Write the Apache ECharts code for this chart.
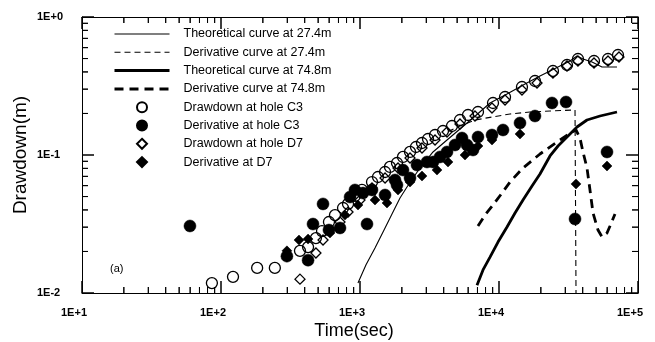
<!DOCTYPE html>
<html>
<head>
<meta charset="utf-8">
<script src="https://cdn.jsdelivr.net/npm/echarts@6/dist/echarts.min.js"></script>
<style>
  html, body { margin: 0; padding: 0; background: #fff; }
  #chart { width: 655px; height: 342px; }
</style>
</head>
<body>
<div id="chart"></div>
<script>
// Axis decades and their labels
const xTickValues = [10, 100, 1000, 10000, 100000];
const xTickLabels = ['1E+1', '1E+2', '1E+3', '1E+4', '1E+5'];
const yTickValues = [0.01, 0.1, 1];
const yTickLabels = ['1E-2', '1E-1', '1E+0'];

const seriesNames = [
  'Theoretical curve at 27.4m',
  'Derivative curve at 27.4m',
  'Theoretical curve at 74.8m',
  'Derivative curve at 74.8m',
  'Drawdown at hole C3',
  'Derivative at hole C3',
  'Drawdown at hole D7',
  'Derivative at D7'
];

// [time (sec), drawdown (m)]
const theory27 = [
  [967, 0.0118], [1105, 0.0160], [1282, 0.0212], [1489, 0.0286], [1699, 0.0374],
  [1940, 0.0488], [2178, 0.0586], [2406, 0.0681], [2702, 0.0805], [3352, 0.1052],
  [4226, 0.1284], [5240, 0.1544], [6500, 0.1854], [8616, 0.2382], [11420, 0.2767],
  [15390, 0.327], [19720, 0.3737], [27470, 0.4416], [32420, 0.4799], [36400, 0.522],
  [40210, 0.4963], [46680, 0.472], [55080, 0.4344], [70600, 0.4344]
];
const deriv27 = [
  [4300, 0.148], [5240, 0.1623], [6719, 0.1793], [8903, 0.1885], [12000, 0.1982],
  [16710, 0.2049], [23280, 0.2084], [35230, 0.212], [35810, 0.212], [35810, 0.01]
];
const theory75 = [
  [6946, 0.0114], [7673, 0.0147], [8616, 0.0182], [9836, 0.0234], [11420, 0.0301],
  [13040, 0.0380], [14880, 0.0472], [17280, 0.0596], [19720, 0.0728], [23280, 0.0984],
  [26580, 0.1162], [30850, 0.1350], [36400, 0.1596], [42960, 0.1793], [53300, 0.1917],
  [70600, 0.2049]
];
const deriv75 = [
  [7060, 0.0306], [7932, 0.0367], [9055, 0.0434], [10510, 0.0530], [12000, 0.0637],
  [14880, 0.0805], [19720, 0.1017], [26150, 0.1242], [33510, 0.1468], [35810, 0.1518],
  [38240, 0.1328], [40210, 0.1052], [42960, 0.0805], [45140, 0.0558], [47470, 0.0380],
  [51560, 0.0286], [55080, 0.0255], [59840, 0.0272], [62900, 0.0306], [68300, 0.0374]
];
const drawdownC3 = [
  [86, 0.0118], [122, 0.0131], [182, 0.0152], [244, 0.0152], [370, 0.0202],
  [423, 0.0215], [482, 0.0250], [533, 0.0281], [598, 0.0327], [661, 0.0367],
  [755, 0.0413], [820, 0.0442], [920, 0.0505], [1033, 0.0558], [1220, 0.0637],
  [1347, 0.0693], [1514, 0.0753], [1643, 0.0819], [1845, 0.0875], [2039, 0.0968],
  [2290, 0.1052], [2528, 0.1143], [2793, 0.1222], [3085, 0.1306], [3465, 0.1396],
  [3955, 0.1493], [4590, 0.1623], [5240, 0.1793], [5985, 0.1949], [7060, 0.2049],
  [9055, 0.2382], [11050, 0.2632], [14630, 0.311], [18150, 0.3436], [24450, 0.406],
  [30850, 0.449], [37000, 0.4963], [48250, 0.4799], [60850, 0.4963], [71800, 0.5306]
];
const derivC3 = [
  [59.8, 0.0306], [298, 0.0185], [423, 0.0173], [459, 0.0316], [542, 0.0442],
  [598, 0.0286], [718, 0.0296], [848, 0.0496], [920, 0.0558], [1051, 0.0530],
  [1123, 0.0316], [1220, 0.0558], [1514, 0.0513], [1786, 0.0659], [1845, 0.0607],
  [2039, 0.0778], [2290, 0.0681], [2571, 0.0846], [3034, 0.0890], [3352, 0.0890],
  [3763, 0.0968], [4226, 0.1052], [4825, 0.1182], [5418, 0.1328], [5886, 0.1182],
  [6500, 0.1087], [7060, 0.1350], [8903, 0.1396], [10690, 0.1518], [14160, 0.1706],
  [18150, 0.1917], [24060, 0.2382], [30350, 0.2421], [35230, 0.0344], [59840, 0.1052]
];
const drawdownD7 = [
  [370, 0.0126], [482, 0.0195], [542, 0.0242], [718, 0.0327], [820, 0.0386],
  [1000, 0.0472], [1220, 0.0577], [1514, 0.0681], [1877, 0.0805], [2290, 0.0951],
  [2793, 0.1124], [3465, 0.1284], [4226, 0.1468], [5240, 0.1678], [6719, 0.1917],
  [8903, 0.2191], [11050, 0.2503], [14630, 0.2958], [18770, 0.3325], [24450, 0.3928],
  [30850, 0.4416], [37000, 0.4799], [48250, 0.464], [60850, 0.4799], [73000, 0.513]
];
const derivD7 = [
  [298, 0.0202], [364, 0.0242], [423, 0.0246], [608, 0.0272], [780, 0.0367],
  [967, 0.0434], [1282, 0.0472], [1564, 0.0449], [1877, 0.0558], [2290, 0.0637],
  [2793, 0.0704], [3581, 0.0778], [4297, 0.0890], [5693, 0.1000], [7060, 0.1162],
  [8903, 0.1284], [14160, 0.1420], [35810, 0.0617], [59840, 0.0832]
];

const FONT = '"Liberation Sans", Arial, Helvetica, sans-serif';
const INK = '#000';
const X_MIN = xTickValues[0], X_MAX = xTickValues[xTickValues.length - 1];
const Y_MIN = yTickValues[0], Y_MAX = yTickValues[yTickValues.length - 1];
const DIAMOND_ICON = 'path://M5,0L10,5L5,10L0,5Z';
const TICK_MAJOR = 12, TICK_MINOR = 6;

// Decades are major ticks, 2..9 within each decade are minor ticks: [value, isMajor]
function logTicks(decades) {
  const out = [];
  decades.forEach(function (d, i) {
    out.push([d, true]);
    if (i < decades.length - 1) {
      for (let m = 2; m <= 9; m++) out.push([d * m, false]);
    }
  });
  return out;
}

// Inward tick marks on all four sides, as thin rect symbols sitting on the frame
function frameTicks() {
  const items = [];
  logTicks(xTickValues).forEach(function (t) {
    const len = t[1] ? TICK_MAJOR : TICK_MINOR;
    items.push({ value: [t[0], Y_MIN], symbolSize: [1, len], symbolOffset: [0, -len / 2] });
    items.push({ value: [t[0], Y_MAX], symbolSize: [1, len], symbolOffset: [0, len / 2] });
  });
  logTicks(yTickValues).forEach(function (t) {
    const len = t[1] ? TICK_MAJOR : TICK_MINOR;
    items.push({ value: [X_MIN, t[0]], symbolSize: [len, 1], symbolOffset: [len / 2, 0] });
    items.push({ value: [X_MAX, t[0]], symbolSize: [len, 1], symbolOffset: [-len / 2, 0] });
  });
  return items;
}

function tickLabel(values, labels) {
  return function (v) {
    for (let i = 0; i < values.length; i++) {
      if (Math.abs(Math.log10(v) - Math.log10(values[i])) < 1e-6) return labels[i];
    }
    return '';
  };
}

const axisCommon = {
  type: 'log',
  logBase: 10,
  splitNumber: 4,
  axisLine: { show: true, onZero: false, lineStyle: { color: INK, width: 1 } },
  axisTick: { show: false },
  minorTick: { show: false },
  splitLine: { show: false },
  minorSplitLine: { show: false }
};

function lineSeries(name, data, width, dash) {
  return {
    name: name, type: 'line', data: data,
    xAxisIndex: 0, yAxisIndex: 0,
    symbol: 'none', showSymbol: false, smooth: false,
    lineStyle: { color: INK, width: width, type: dash || 'solid' },
    itemStyle: { color: INK },
    z: 2
  };
}

function scatterSeries(name, data, symbol, size, filled) {
  return {
    name: name, type: 'scatter', data: data,
    xAxisIndex: 0, yAxisIndex: 0,
    symbol: symbol, symbolSize: size,
    itemStyle: filled
      ? { color: INK, borderColor: INK, borderWidth: 0.5, opacity: 1 }
      : { color: 'rgba(255,255,255,0)', borderColor: INK, borderWidth: 1.3, opacity: 1 },
    z: 3
  };
}

const legendLineWidths = [1.1, 1.1, 3, 3];
const legendData = seriesNames.map(function (n, i) {
  if (i < 4) {
    // line entries show only the stroke, without a marker in the middle
    return { name: n, itemStyle: { opacity: 0 }, lineStyle: { width: legendLineWidths[i] } };
  }
  if (i >= 6) return { name: n, icon: DIAMOND_ICON };
  return { name: n };
});

const chart = echarts.init(document.getElementById('chart'), null, { renderer: 'canvas' });

chart.setOption({
  animation: false,
  backgroundColor: '#fff',
  grid: { left: 82, right: 17, top: 17, bottom: 49, containLabel: false },
  xAxis: [
    Object.assign({}, axisCommon, {
      position: 'bottom', min: X_MIN, max: X_MAX,
      axisLabel: {
        show: true, margin: 14, fontFamily: FONT, fontSize: 11, fontWeight: 'bold', color: INK,
        padding: [0, 16, 0, 0],
        formatter: tickLabel(xTickValues, xTickLabels)
      }
    }),
    Object.assign({}, axisCommon, {
      position: 'top', min: X_MIN, max: X_MAX, gridIndex: 0,
      axisLabel: { show: false }
    })
  ],
  yAxis: [
    Object.assign({}, axisCommon, {
      position: 'left', min: Y_MIN, max: Y_MAX,
      axisLabel: {
        show: true, margin: 45, align: 'left', fontFamily: FONT, fontSize: 11, fontWeight: 'bold', color: INK,
        formatter: tickLabel(yTickValues, yTickLabels)
      }
    }),
    Object.assign({}, axisCommon, {
      position: 'right', min: Y_MIN, max: Y_MAX, gridIndex: 0,
      axisLabel: { show: false }
    })
  ],
  legend: {
    orient: 'vertical',
    left: 108, top: 22,
    itemWidth: 55, itemHeight: 10, itemGap: 4.3,
    symbolKeepAspect: true,
    data: legendData,
    textStyle: { fontFamily: FONT, fontSize: 12.5, color: INK, padding: [0, 0, 0, 9], lineHeight: 14 },
    selectedMode: false
  },
  series: [
    lineSeries(seriesNames[0], theory27, 1.1),
    lineSeries(seriesNames[1], deriv27, 1.1, [6, 4]),
    lineSeries(seriesNames[2], theory75, 2.8),
    lineSeries(seriesNames[3], deriv75, 2.8, [9, 6]),
    scatterSeries(seriesNames[4], drawdownC3, 'circle', 11, false),
    scatterSeries(seriesNames[5], derivC3, 'circle', 12, true),
    scatterSeries(seriesNames[6], drawdownD7, 'diamond', 10, false),
    scatterSeries(seriesNames[7], derivD7, 'diamond', 10, true),
    {
      name: 'frame ticks', type: 'scatter', data: frameTicks(),
      xAxisIndex: 0, yAxisIndex: 0,
      symbol: 'rect', clip: false, silent: true,
      itemStyle: { color: INK, opacity: 1 },
      emphasis: { disabled: true },
      z: 4
    }
  ]
});

// Axis titles, panel tag and the same frame ticks placed through the axis scales
const FINDER = { seriesIndex: 4 };
const overlay = [];
function bar(x, y, w, h) {
  return { type: 'rect', silent: true, z: 10, shape: { x: x, y: y, width: w, height: h }, style: { fill: INK } };
}
function px(v, w) {
  return chart.convertToPixel(FINDER, [v, w]);
}
logTicks(xTickValues).forEach(function (t) {
  const len = t[1] ? TICK_MAJOR : TICK_MINOR;
  const b = px(t[0], Y_MIN);
  const tp = px(t[0], Y_MAX);
  if (!b || !tp) return;
  overlay.push(bar(b[0] - 0.5, b[1] - len, 1, len));
  overlay.push(bar(tp[0] - 0.5, tp[1], 1, len));
});
logTicks(yTickValues).forEach(function (t) {
  const len = t[1] ? TICK_MAJOR : TICK_MINOR;
  const l = px(X_MIN, t[0]);
  const r = px(X_MAX, t[0]);
  if (!l || !r) return;
  overlay.push(bar(l[0], l[1] - 0.5, len, 1));
  overlay.push(bar(r[0] - len, r[1] - 0.5, len, 1));
});
overlay.push({ type: 'text', left: 110, top: 263, style: { text: '(a)', font: '11px ' + FONT, fill: INK } });
overlay.push({
  type: 'text', x: 354, y: 322,
  style: { text: 'Time(sec)', font: '18px ' + FONT, fill: INK, align: 'center', verticalAlign: 'top' }
});
overlay.push({
  type: 'text', x: 21, y: 155, rotation: Math.PI / 2,
  style: { text: 'Drawdown(m)', font: '19px ' + FONT, fill: INK, align: 'center', verticalAlign: 'middle' }
});

chart.setOption({ graphic: overlay });
</script>
</body>
</html>
